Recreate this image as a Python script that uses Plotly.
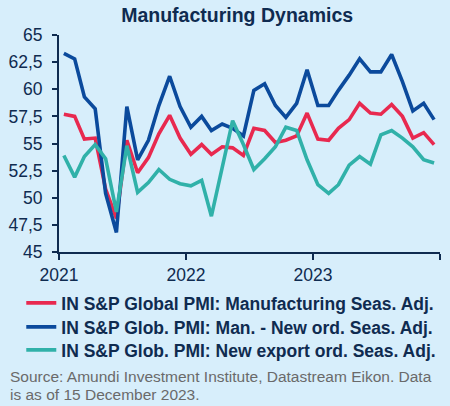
import plotly.graph_objects as go
import pandas as pd

dates = [d.strftime("%Y-%m-%d") for d in pd.date_range("2021-01-01", periods=36, freq="MS") + pd.Timedelta(days=14)]

pmi_manufacturing = [57.7, 57.5, 55.4, 55.5, 50.8, 48.1, 55.3, 52.3, 53.7, 55.9, 57.6, 55.5,
                     54.0, 54.9, 54.0, 54.7, 54.6, 53.9, 56.4, 56.2, 55.1, 55.3, 55.7, 57.8,
                     55.4, 55.3, 56.4, 57.2, 58.7, 57.8, 57.7, 58.6, 57.5, 55.5, 56.0, 54.9]
pmi_new_orders = [63.3, 62.8, 59.3, 58.2, 50.4, 46.8, 58.4, 53.5, 55.3, 58.5, 61.2, 58.4,
                  56.5, 57.5, 56.2, 56.8, 56.4, 55.7, 59.9, 60.5, 58.5, 57.4, 58.7, 61.8,
                  58.5, 58.5, 59.9, 61.3, 62.8, 61.6, 61.6, 63.2, 60.7, 58.0, 58.7, 57.2]
pmi_export_orders = [53.9, 51.9, 53.8, 54.9, 53.6, 48.7, 54.8, 50.5, 51.4, 52.6, 51.7, 51.3,
                     51.1, 51.6, 48.3, 52.7, 57.1, 54.9, 52.6, 53.6, 54.7, 56.5, 56.2, 53.5,
                     51.2, 50.4, 51.2, 53.0, 53.8, 53.1, 55.8, 56.2, 55.5, 54.7, 53.5, 53.2]

series_names = ["IN S&P Global PMI: Manufacturing Seas. Adj.",
                "IN S&P Glob. PMI: Man. - New ord. Seas. Adj.",
                "IN S&P Glob. PMI: New export ord. Seas. Adj."]
series_colors = ["#e8294f", "#0b4a9c", "#30b1a9"]
legend_ids = ["legend", "legend2", "legend3"]
legend_rows_y = [-0.235, -0.3456, -0.4516]

source_lines = ["Source: Amundi Investment Institute, Datastream Eikon. Data",
                "is as of 15 December 2023."]
source_rows_y = [-0.5747, -0.6544]

x_tick_vals = ["2021-01-01", "2022-01-01", "2023-01-01", "2024-01-01"]
x_tick_text = ["2021", "2022", "2023", ""]
y_tick_vals = [45, 47.5, 50, 52.5, 55, 57.5, 60, 62.5, 65]

navy = "#0f2b50"
bg = "#d7eefb"

fig = go.Figure()
for name, vals, col, lg in zip(series_names, [pmi_manufacturing, pmi_new_orders, pmi_export_orders],
                               series_colors, legend_ids):
    fig.add_trace(go.Scatter(x=dates, y=vals, mode="lines", name=name, legend=lg,
                             line=dict(color=col, width=3.6)))

legend_style = dict(orientation="v", x=-0.099, xanchor="left", yanchor="middle",
                    bgcolor="rgba(0,0,0,0)", font=dict(size=17.5, color=navy, weight="bold"),
                    itemwidth=30)

fig.update_layout(
    width=450, height=406,
    paper_bgcolor=bg, plot_bgcolor=bg,
    margin=dict(l=59, r=10, t=35, b=154, autoexpand=False),
    separators=", ",
    font=dict(family="Liberation Sans, Arial, sans-serif", color=navy, size=16),
    title=dict(text="<b>Manufacturing Dynamics</b>", x=0.527, xanchor="center", y=0.962, yanchor="middle",
               font=dict(size=19.5, color=navy)),
    showlegend=True,
    legend=dict(y=legend_rows_y[0], **legend_style),
    legend2=dict(y=legend_rows_y[1], **legend_style),
    legend3=dict(y=legend_rows_y[2], **legend_style),
    xaxis=dict(range=["2021-01-01", "2024-01-01"], tickmode="array", tickvals=x_tick_vals,
               ticktext=x_tick_text, showgrid=False, zeroline=False, showline=True,
               linecolor=navy, linewidth=2, ticks="outside", tickcolor=navy, ticklen=6, tickwidth=2,
               tickfont=dict(size=17.5, color=navy)),
    yaxis=dict(range=[45, 65], tickmode="array", tickvals=y_tick_vals, showgrid=False, zeroline=False,
               showline=True, linecolor=navy, linewidth=2, ticks="outside", tickcolor=navy, ticklen=5,
               tickwidth=2, tickfont=dict(size=17.5, color=navy), tickformat=".1~f",
               ticklabelstandoff=6),
    annotations=[dict(text=t, xref="paper", yref="paper", x=-0.133, xanchor="left", y=yy, yanchor="middle",
                      showarrow=False, align="left", font=dict(size=15.5, color="#6a6a6a"))
                 for t, yy in zip(source_lines, source_rows_y)],
)

fig.write_html("out.html", config={"displayModeBar": False},
               post_script="document.body.style.margin='0';document.body.style.background='%s';" % bg)
